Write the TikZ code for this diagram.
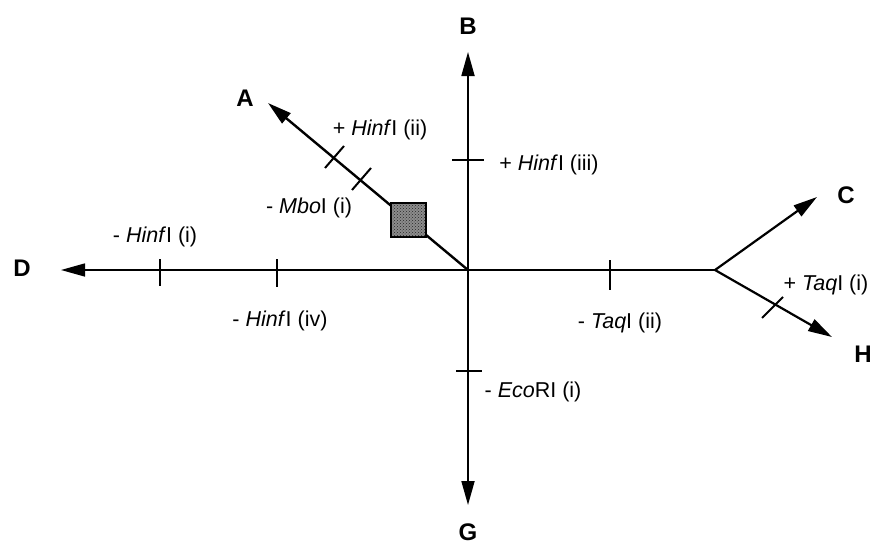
\documentclass[tikz,border=0pt]{standalone}
\usepackage{fontspec}
\setmainfont{Liberation Sans}
\usetikzlibrary{arrows.meta,patterns}

\begin{document}
\begin{tikzpicture}[x=1pt,y=-1pt,font=\fontsize{21.5}{25}\selectfont,
  arm/.style={line width=1.8pt,-{Triangle[length=24pt,width=13pt]}},
  cut/.style={line width=1.5pt},
  end/.style={font=\fontsize{24}{27}\selectfont\bfseries,inner sep=0pt}]
  \useasboundingbox (0,0) rectangle (872,546);
  \coordinate (o) at (468,270);
  \coordinate (br) at (715,270);
  \coordinate (tA) at (268,103);
  \coordinate (tB) at (468,52);
  \coordinate (tC) at (817,197);
  \coordinate (tD) at (61,270);
  \coordinate (tG) at (468,505);
  \coordinate (tH) at (832,337);
  % arms
  \draw[arm,line width=1.5pt] (o) -- (tD);
  \draw[line width=1.5pt] (o) -- (br);
  \draw[arm] (o) -- (tB);
  \draw[arm] (o) -- (tG);
  \draw[arm,line width=2.4pt] (o) -- (tA);
  \draw[arm,line width=2.2pt] (br) -- (tC);
  \draw[arm,line width=2.2pt] (br) -- (tH);
  % cut sites
  \coordinate (cA1) at (334,158);
  \coordinate (cA2) at (361,180);
  \coordinate (cB) at (468,160);
  \coordinate (cG) at (468,371);
  \coordinate (cD1) at (160,270);
  \coordinate (cD2) at (277,270);
  \coordinate (cR) at (610,270);
  \coordinate (cH) at (773,307);
  \draw[cut,line width=2pt] (cA1) ++(-9,10) -- ++(19,-22);
  \draw[cut,line width=2pt] (cA2) ++(-9,10) -- ++(19,-22);
  \draw[cut] (cB) ++(-16,0) -- ++(32,0);
  \draw[cut] (cG) ++(-12,0) -- ++(26,0);
  \draw[cut] (cD1) ++(0,-11) -- ++(0,27);
  \draw[cut] (cD2) ++(0,-11) -- ++(0,28);
  \draw[cut] (cR) ++(0,-10) -- ++(0,30);
  \draw[cut,line width=2pt] (cH) ++(-11,11) -- ++(21,-21);
  % block on arm A
  \filldraw[fill=black!45,line width=2pt] (391,203) rectangle (426,237);
  \fill[pattern=crosshatch dots,pattern color=black!85] (392,204) rectangle (425,236);
  % ends
  \node[end] (A) at (245,98) {A};
  \node[end] (B) at (468,26) {B};
  \node[end] (C) at (846,195) {C};
  \node[end] (D) at (22,268) {D};
  \node[end] (G) at (468,532) {G};
  \node[end] (H) at (863,354) {H};
  % labels
  \node (hinfii) at (380,130) {+ \textit{Hinf}I (ii)};
  \node (mboi) at (309,208) {- \textit{Mbo}I (i)};
  \node (hinfiii) at (549,165) {+ \textit{Hinf}I (iii)};
  \node (hinfi) at (155,237) {- \textit{Hinf}I (i)};
  \node (hinfiv) at (280,321) {- \textit{Hinf}I (iv)};
  \node (taqii) at (620,323) {- \textit{Taq}I (ii)};
  \node (ecori) at (533,392) {- \textit{Eco}RI (i)};
  \node (taqi) at (826,285) {+ \textit{Taq}I (i)};
\end{tikzpicture}
\end{document}
